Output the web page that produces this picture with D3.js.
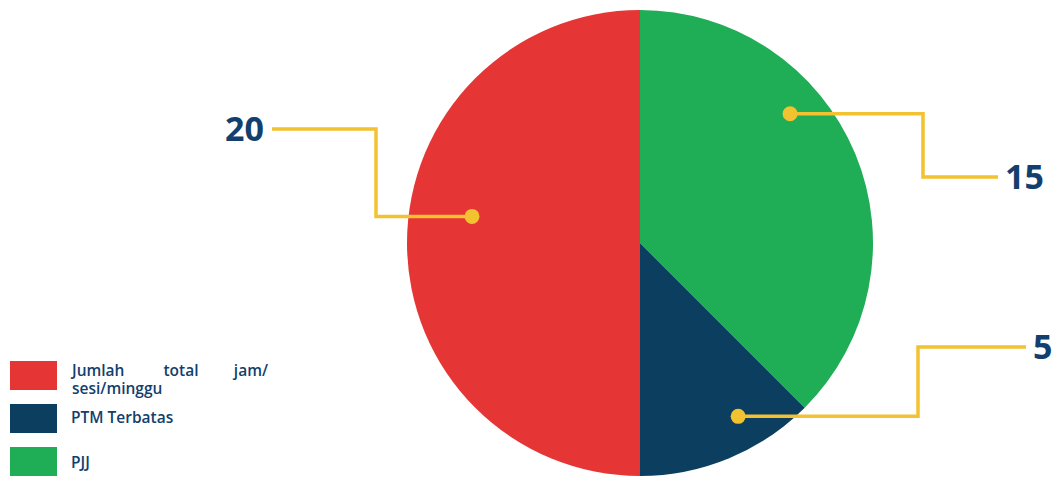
<!DOCTYPE html>
<html>
<head>
<meta charset="utf-8">
<script src="https://cdn.jsdelivr.net/npm/d3@7"></script>
<style>
  body { margin:0; background:#fff; }
  svg text { font-family:"Open Sans", "DejaVu Sans", sans-serif; }
</style>
</head>
<body>
<svg id="chart" width="1061" height="477"></svg>
<script>
// data
var categories = ["PJJ", "PTM Terbatas", "Jumlah total jam/ sesi/minggu"];
var values = [15, 5, 20];
var legendOrder = ["Jumlah total jam/ sesi/minggu", "PTM Terbatas", "PJJ"];

// look
var colors = {"PJJ":"#1fad56", "PTM Terbatas":"#0c3f5f", "Jumlah total jam/ sesi/minggu":"#e63535"};
var gold = "#f2c230", navy = "#123f6d";
// callout layout: where the dot sits inside each slice (fraction of sweep, fraction of radius),
// then elbow x, end y of the leader and label x
var callouts = {
  "PJJ":          {t:0.365, r:0.85, elbowX:923, endY:177, endX:998, anchor:"start"},
  "PTM Terbatas": {t:0.344, r:0.855, elbowX:918, endY:347, endX:1026, anchor:"start"},
  "Jumlah total jam/ sesi/minggu": {t:0.55, r:0.73, elbowX:376, endY:129, endX:272, anchor:"end"}
};

var svg = d3.select("#chart");
var cx = 640, cy = 243, R = 233;

var pie = d3.pie().sort(null).value(function(d){ return d.v; });
var arcs = pie(categories.map(function(c,i){ return {c:c, v:values[i]}; }));
var arc = d3.arc().innerRadius(0).outerRadius(R);

var g = svg.append("g").attr("transform","translate("+cx+","+cy+")");
g.selectAll("path").data(arcs).enter().append("path")
  .attr("d", arc)
  .style("fill", function(d){ return colors[d.data.c]; });

//leaders
arcs.forEach(function(d){
  var co = callouts[d.data.c];
  var a = d.startAngle + co.t*(d.endAngle-d.startAngle);
  var p = d3.pointRadial(a, co.r*R);
  var px = cx+p[0], py = cy+p[1];
  svg.append("path")
    .attr("d", "M"+px+","+py+"H"+co.elbowX+"V"+co.endY+"H"+co.endX)
    .style("fill","none").style("stroke",gold).style("stroke-width",3.5);
  svg.append("circle").attr("cx",px).attr("cy",py).attr("r",7.5).style("fill",gold);
  svg.append("text")
    .attr("x", co.anchor=="end" ? co.endX-8 : co.endX+7)
    .attr("y", co.endY+12)
    .attr("text-anchor", co.anchor)
    .style("font-size","34px").style("font-weight","700").style("fill",navy)
    .text(d.data.v);
});

// legend
var leg = svg.append("g");
var rows = [361, 404, 447];
legendOrder.forEach(function(name,i){
  leg.append("rect").attr("x",10).attr("y",rows[i]).attr("width",47).attr("height",29)
    .style("fill",colors[name]);
});
function legText(x, y, s, anchor){
  leg.append("text").attr("x",x).attr("y",y).attr("text-anchor",anchor||"start")
    .style("font-size","15.5px").style("font-weight","600").style("fill",navy).text(s);
}
// first entry is justified over two lines
legText(72, 376, "Jumlah");
legText(181, 376, "total", "middle");
legText(268, 376, "jam/", "end");
legText(72, 394, "sesi/minggu");
legText(71, 423, "PTM Terbatas");
legText(71, 468, "PJJ");
</script>
</body>
</html>
